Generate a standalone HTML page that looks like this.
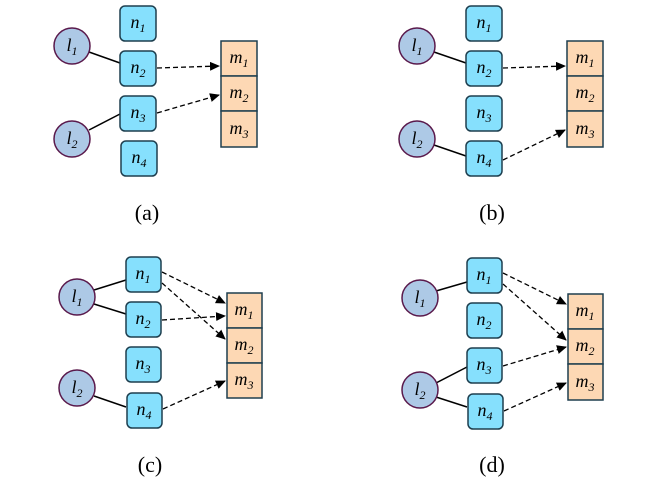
<!DOCTYPE html>
<html><head><style>body{margin:0;background:#fff}svg{display:block}</style></head><body>
<svg width="653" height="490" viewBox="0 0 653 490" xmlns="http://www.w3.org/2000/svg">
<defs><marker id="a" markerWidth="10" markerHeight="10" refX="9" refY="4.5" orient="auto" markerUnits="userSpaceOnUse"><path d="M0,0 L10,4.5 L0,9 z" fill="#000"/></marker>
<style>
.n{fill:#86e0fd;stroke:#1e3f4f;stroke-width:1.5}
.l{fill:#adc9e6;stroke:#5a1a4c;stroke-width:1.5}
.m{fill:#fdd8b4;stroke:#1e3f4f;stroke-width:1.5}
.s{stroke:#000;stroke-width:1.5;fill:none}
.d{stroke:#000;stroke-width:1.3;fill:none;stroke-dasharray:5,3;marker-end:url(#a)}
text{font-family:"Liberation Serif",serif;font-style:italic;font-size:18px;text-anchor:middle}
.c{font-style:normal;font-size:22px}
</style></defs>

<!-- (a) -->
<line class="s" x1="89" y1="52" x2="120" y2="63"/>
<line class="s" x1="89" y1="130" x2="120" y2="114"/>
<line class="d" x1="157" y1="68" x2="219" y2="66"/>
<line class="d" x1="157" y1="113" x2="219" y2="95"/>
<circle class="l" cx="72" cy="46" r="18"/><circle class="l" cx="72" cy="139" r="18"/>
<rect class="n" x="120" y="6" width="36" height="35" rx="5"/>
<rect class="n" x="120" y="51" width="36" height="35" rx="5"/>
<rect class="n" x="120" y="96" width="36" height="35" rx="5"/>
<rect class="n" x="121" y="141" width="36" height="35" rx="5"/>
<rect class="m" x="221" y="41" width="36" height="35"/><rect class="m" x="221" y="76" width="36" height="35"/><rect class="m" x="221" y="111" width="36" height="36"/>
<text x="72" y="51">l<tspan font-size="12" dy="4">1</tspan></text>
<text x="72" y="144">l<tspan font-size="12" dy="4">2</tspan></text>
<text x="138" y="28">n<tspan font-size="12" dy="4">1</tspan></text>
<text x="138" y="73">n<tspan font-size="12" dy="4">2</tspan></text>
<text x="138" y="118">n<tspan font-size="12" dy="4">3</tspan></text>
<text x="139" y="163">n<tspan font-size="12" dy="4">4</tspan></text>
<text x="239" y="63">m<tspan font-size="12" dy="4">1</tspan></text>
<text x="239" y="98">m<tspan font-size="12" dy="4">2</tspan></text>
<text x="239" y="134">m<tspan font-size="12" dy="4">3</tspan></text>
<text class="c" x="147" y="220">(a)</text>

<!-- (b) -->
<line class="s" x1="434" y1="52" x2="466" y2="63"/>
<line class="s" x1="434" y1="145" x2="466" y2="156"/>
<line class="d" x1="503" y1="68" x2="565" y2="66"/>
<line class="d" x1="503" y1="160" x2="565" y2="130"/>
<circle class="l" cx="417" cy="46" r="18"/><circle class="l" cx="417" cy="139" r="18"/>
<rect class="n" x="466" y="6" width="36" height="35" rx="5"/>
<rect class="n" x="466" y="51" width="36" height="35" rx="5"/>
<rect class="n" x="466" y="96" width="36" height="35" rx="5"/>
<rect class="n" x="466" y="141" width="36" height="35" rx="5"/>
<rect class="m" x="567" y="41" width="36" height="35"/><rect class="m" x="567" y="76" width="36" height="35"/><rect class="m" x="567" y="111" width="36" height="36"/>
<text x="417" y="51">l<tspan font-size="12" dy="4">1</tspan></text>
<text x="417" y="144">l<tspan font-size="12" dy="4">2</tspan></text>
<text x="484" y="28">n<tspan font-size="12" dy="4">1</tspan></text>
<text x="484" y="73">n<tspan font-size="12" dy="4">2</tspan></text>
<text x="484" y="118">n<tspan font-size="12" dy="4">3</tspan></text>
<text x="484" y="163">n<tspan font-size="12" dy="4">4</tspan></text>
<text x="585" y="63">m<tspan font-size="12" dy="4">1</tspan></text>
<text x="585" y="98">m<tspan font-size="12" dy="4">2</tspan></text>
<text x="585" y="134">m<tspan font-size="12" dy="4">3</tspan></text>
<text class="c" x="492" y="220">(b)</text>

<!-- (c) -->
<line class="s" x1="94" y1="290" x2="126" y2="280"/>
<line class="s" x1="94" y1="304" x2="126" y2="314"/>
<line class="s" x1="94" y1="396" x2="126" y2="407"/>
<line class="d" x1="162" y1="272" x2="225" y2="303"/>
<line class="d" x1="162" y1="283" x2="225" y2="339"/>
<line class="d" x1="162" y1="320" x2="225" y2="316"/>
<line class="d" x1="163" y1="409" x2="225" y2="381"/>
<circle class="l" cx="77" cy="297" r="18"/><circle class="l" cx="77" cy="388" r="18"/>
<rect class="n" x="126" y="257" width="35" height="35" rx="5"/>
<rect class="n" x="126" y="302" width="35" height="35" rx="5"/>
<rect class="n" x="126" y="347" width="35" height="35" rx="5"/>
<rect class="n" x="127" y="393" width="35" height="35" rx="5"/>
<rect class="m" x="227" y="293" width="35" height="35"/><rect class="m" x="227" y="328" width="35" height="35"/><rect class="m" x="227" y="363" width="35" height="35"/>
<text x="77" y="302">l<tspan font-size="12" dy="4">1</tspan></text>
<text x="77" y="393">l<tspan font-size="12" dy="4">2</tspan></text>
<text x="143" y="279">n<tspan font-size="12" dy="4">1</tspan></text>
<text x="143" y="324">n<tspan font-size="12" dy="4">2</tspan></text>
<text x="143" y="369">n<tspan font-size="12" dy="4">3</tspan></text>
<text x="144" y="415">n<tspan font-size="12" dy="4">4</tspan></text>
<text x="244" y="315">m<tspan font-size="12" dy="4">1</tspan></text>
<text x="244" y="350">m<tspan font-size="12" dy="4">2</tspan></text>
<text x="244" y="385">m<tspan font-size="12" dy="4">3</tspan></text>
<text class="c" x="150" y="472">(c)</text>

<!-- (d) -->
<line class="s" x1="436" y1="291" x2="467" y2="282"/>
<line class="s" x1="436" y1="383" x2="467" y2="367"/>
<line class="s" x1="436" y1="397" x2="467" y2="407"/>
<line class="d" x1="503" y1="273" x2="566" y2="304"/>
<line class="d" x1="503" y1="284" x2="566" y2="340"/>
<line class="d" x1="503" y1="366" x2="566" y2="347"/>
<line class="d" x1="504" y1="411" x2="566" y2="383"/>
<circle class="l" cx="420" cy="298" r="18"/><circle class="l" cx="420" cy="390" r="18"/>
<rect class="n" x="467" y="258" width="35" height="35" rx="5"/>
<rect class="n" x="467" y="303" width="35" height="35" rx="5"/>
<rect class="n" x="467" y="348" width="35" height="35" rx="5"/>
<rect class="n" x="468" y="394" width="35" height="35" rx="5"/>
<rect class="m" x="568" y="294" width="35" height="35"/><rect class="m" x="568" y="329" width="35" height="35"/><rect class="m" x="568" y="364" width="35" height="36"/>
<text x="420" y="303">l<tspan font-size="12" dy="4">1</tspan></text>
<text x="420" y="395">l<tspan font-size="12" dy="4">2</tspan></text>
<text x="484" y="280">n<tspan font-size="12" dy="4">1</tspan></text>
<text x="484" y="325">n<tspan font-size="12" dy="4">2</tspan></text>
<text x="484" y="370">n<tspan font-size="12" dy="4">3</tspan></text>
<text x="485" y="416">n<tspan font-size="12" dy="4">4</tspan></text>
<text x="585" y="316">m<tspan font-size="12" dy="4">1</tspan></text>
<text x="585" y="351">m<tspan font-size="12" dy="4">2</tspan></text>
<text x="585" y="387">m<tspan font-size="12" dy="4">3</tspan></text>
<text class="c" x="492" y="472">(d)</text>
</svg>
</body></html>
